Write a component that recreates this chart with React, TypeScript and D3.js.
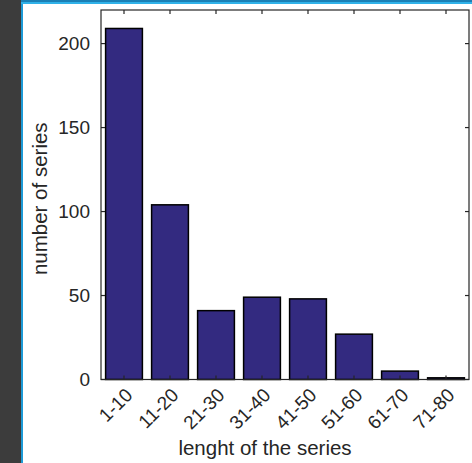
import React from "react";
import * as d3 from "d3";

const categories = ["1-10", "11-20", "21-30", "31-40", "41-50", "51-60", "61-70", "71-80"];
const counts = [209, 104, 41, 49, 48, 27, 5, 1];
const yTicks = [0, 50, 100, 150, 200];

export default function App() {
  const W = 472, H = 463;
  const left = 101, right = 469, top = 10, bottom = 379.5;
  const x = d3.scaleBand<string>().domain(categories).range([left, right]).paddingInner(0.2).paddingOuter(0.1);
  const xc = (c: string) => (x(c) as number) + x.bandwidth() / 2;
  const y = d3.scaleLinear().domain([0, 220]).range([bottom, top]);
  const axisColor = "#262626";
  const font = "'Liberation Sans', Arial, sans-serif";
  const tl = 4;
  return (
    <div style={{ position: "fixed", left: 0, top: 0 }}>
      <svg width={W} height={H} style={{ display: "block" }}>
        <rect x={0} y={0} width={W} height={H} fill="#ffffff" />
        <rect x={0} y={0} width={21} height={H} fill="#3c3c3c" />
        <rect x={21} y={0} width={2} height={H} fill="#1e9ad6" />
        <rect x={21} y={0} width={W - 21} height={2} fill="#1a7fb5" />
        <rect x={21} y={2} width={W - 21} height={2} fill="#2fb1e8" />
        {categories.map((c, i) => (
          <rect key={c} x={x(c)} y={y(counts[i])} width={x.bandwidth()} height={bottom - y(counts[i])}
            fill="#332a80" stroke="#000" strokeWidth={1.5} />
        ))}
        <rect x={left} y={top} width={right - left} height={bottom - top} fill="none" stroke={axisColor} strokeWidth={1.2} />
        {yTicks.map((t) => (
          <g key={t}>
            <line x1={left} x2={left + tl} y1={y(t)} y2={y(t)} stroke={axisColor} strokeWidth={1.2} />
            <line x1={right} x2={right - tl} y1={y(t)} y2={y(t)} stroke={axisColor} strokeWidth={1.2} />
            <text x={left - 11} y={y(t)} dy="0.35em" textAnchor="end" fontFamily={font} fontSize={19} fill={axisColor}>{t}</text>
          </g>
        ))}
        {categories.map((c) => (
          <g key={c}>
            <line x1={xc(c)} x2={xc(c)} y1={bottom} y2={bottom - tl} stroke={axisColor} strokeWidth={1.2} />
            <line x1={xc(c)} x2={xc(c)} y1={top} y2={top + tl} stroke={axisColor} strokeWidth={1.2} />
            <text transform={`translate(${xc(c) + 5},${bottom + 12}) rotate(-45)`} textAnchor="end" dy="0.35em"
              fontFamily={font} fontSize={19} fill={axisColor}>{c}</text>
          </g>
        ))}
        <text transform={`translate(46.5,${(top + bottom) / 2 + 4}) rotate(-90)`} textAnchor="middle"
          fontFamily={font} fontSize={20.5} fill={axisColor}>number of series</text>
        <text x={265} y={455} textAnchor="middle" fontFamily={font} fontSize={20.5} fill={axisColor}>lenght of the series</text>
      </svg>
    </div>
  );
}
